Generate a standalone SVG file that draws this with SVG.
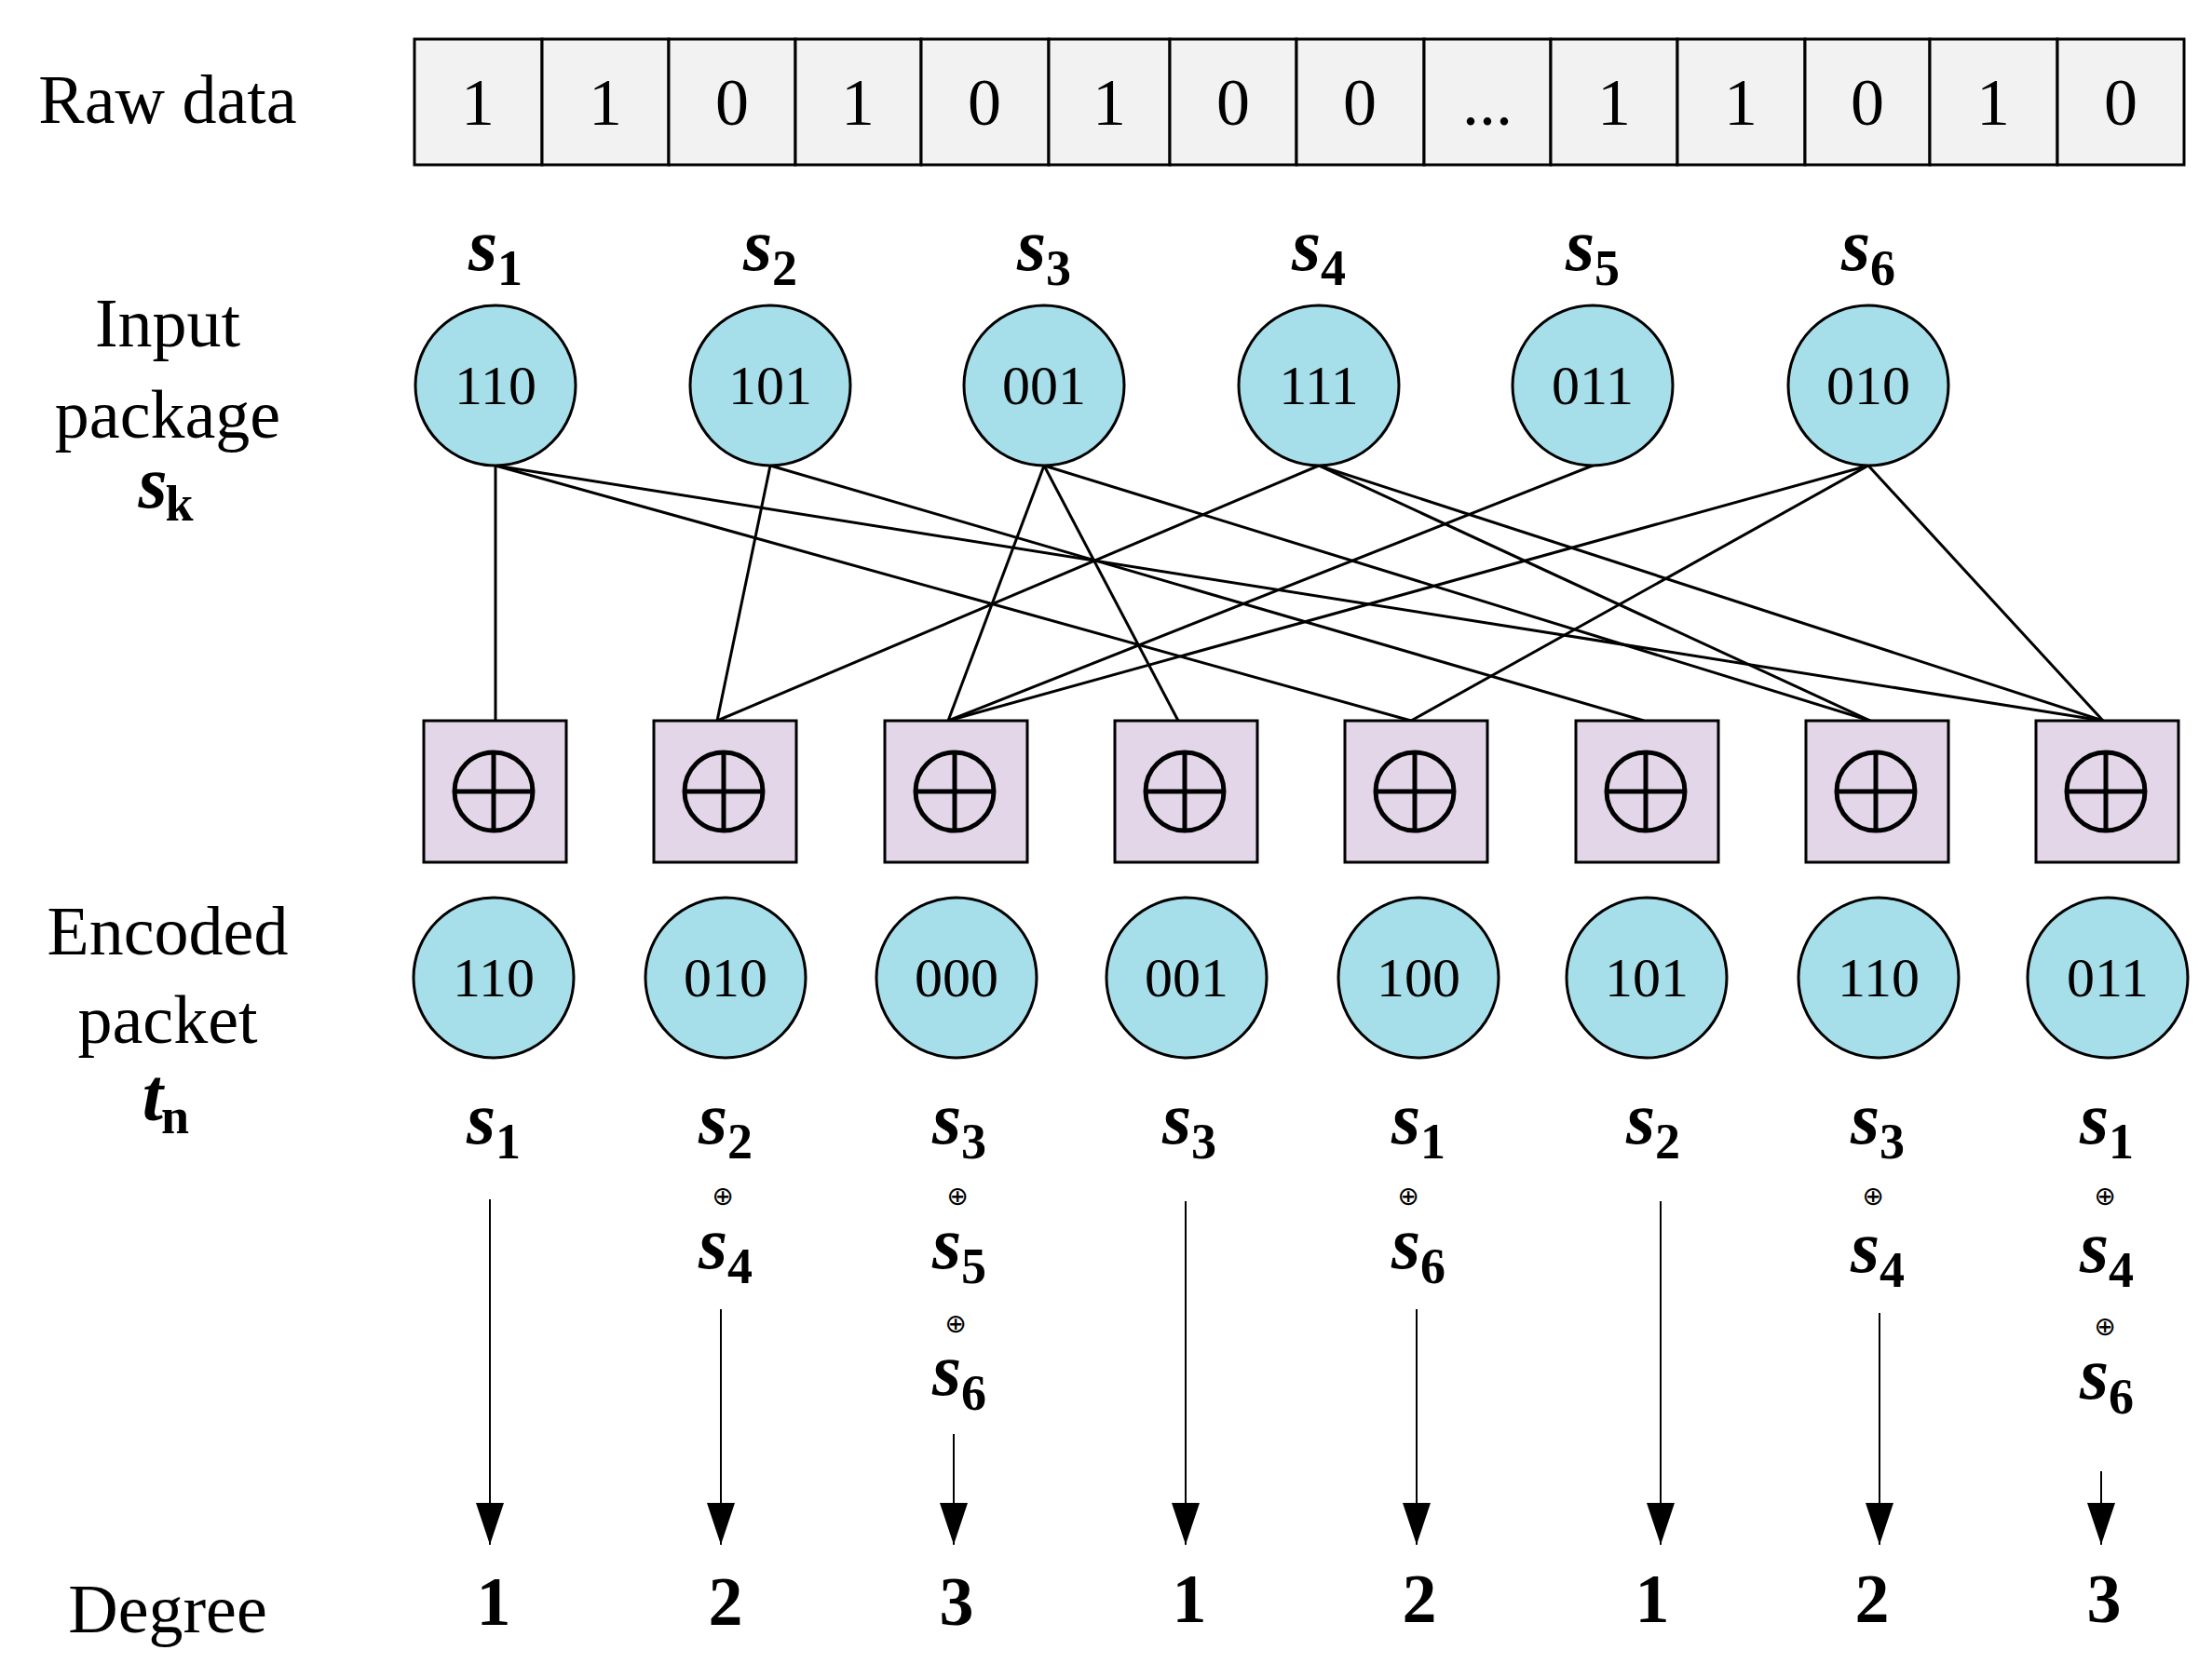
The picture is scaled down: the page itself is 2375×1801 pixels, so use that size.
<svg xmlns="http://www.w3.org/2000/svg" width="2375" height="1801" viewBox="0 0 2375 1801">
<style>
.lbl{font-family:"Liberation Serif",serif;font-size:74px;text-anchor:middle;fill:#000}
.cell{fill:#f2f2f2;stroke:#000;stroke-width:3}
.ct{font-family:"Liberation Serif",serif;font-size:72px;text-anchor:middle}
.node{fill:#a6dfea;stroke:#000;stroke-width:3}
.nt{font-family:"Liberation Serif",serif;font-size:60px;text-anchor:middle}
.box{fill:#e3d6e8;stroke:#000;stroke-width:3}
.xs{fill:none;stroke:#000;stroke-width:5}
.s{font-family:"Liberation Serif",serif;font-size:80px;font-weight:bold;font-style:italic;text-anchor:middle}
.sub{font-style:normal;font-size:54px}
.op{font-family:"DejaVu Sans",sans-serif;font-size:28px;text-anchor:middle}
.deg{font-family:"Liberation Serif",serif;font-size:74px;font-weight:bold;text-anchor:middle}
.e{stroke:#000;stroke-width:3;fill:none}
.a{stroke:#000;stroke-width:2;fill:none}
</style>
<defs>
<marker id="ah2" markerWidth="45" markerHeight="30" refX="45" refY="15" orient="auto" markerUnits="userSpaceOnUse" viewBox="0 0 45 30"><path d="M0,0 L45,15 L0,30 Z" fill="#000"/></marker>
</defs>
<rect width="2375" height="1801" fill="#fff"/>
<g id="labels">
<text class="lbl" x="180" y="132">Raw data</text>
<text class="lbl" x="180" y="372">Input</text>
<text class="lbl" x="180" y="470">package</text>
<text class="s" x="178" y="545">s<tspan class="sub" font-size="40" font-style="italic" dy="14" dx="-2">k</tspan></text>
<text class="lbl" x="180" y="1025">Encoded</text>
<text class="lbl" x="180" y="1120">packet</text>
<text class="s" x="178" y="1203">t<tspan class="sub" font-size="40" font-style="italic" dy="14" dx="-2">n</tspan></text>
<text class="lbl" x="180" y="1753">Degree</text>
</g>
<g id="rawdata">
<rect class="cell" x="445" y="42" width="137" height="135"/><text class="ct" x="513" y="134">1</text>
<rect class="cell" x="582" y="42" width="136" height="135"/><text class="ct" x="650" y="134">1</text>
<rect class="cell" x="718" y="42" width="136" height="135"/><text class="ct" x="786" y="134">0</text>
<rect class="cell" x="854" y="42" width="135" height="135"/><text class="ct" x="921" y="134">1</text>
<rect class="cell" x="989" y="42" width="137" height="135"/><text class="ct" x="1057" y="134">0</text>
<rect class="cell" x="1126" y="42" width="130" height="135"/><text class="ct" x="1191" y="134">1</text>
<rect class="cell" x="1256" y="42" width="136" height="135"/><text class="ct" x="1324" y="134">0</text>
<rect class="cell" x="1392" y="42" width="137" height="135"/><text class="ct" x="1460" y="134">0</text>
<rect class="cell" x="1529" y="42" width="136" height="135"/><text class="ct" x="1597" y="134" font-size="48">...</text>
<rect class="cell" x="1665" y="42" width="136" height="135"/><text class="ct" x="1733" y="134">1</text>
<rect class="cell" x="1801" y="42" width="137" height="135"/><text class="ct" x="1869" y="134">1</text>
<rect class="cell" x="1938" y="42" width="134" height="135"/><text class="ct" x="2005" y="134">0</text>
<rect class="cell" x="2072" y="42" width="137" height="135"/><text class="ct" x="2140" y="134">1</text>
<rect class="cell" x="2209" y="42" width="136" height="135"/><text class="ct" x="2277" y="134">0</text>
</g>
<g id="connectors">
<line class="e" x1="532" y1="500" x2="532" y2="774"/>
<line class="e" x1="532" y1="500" x2="1515" y2="774"/>
<line class="e" x1="532" y1="500" x2="2258" y2="774"/>
<line class="e" x1="827" y1="500" x2="770" y2="774"/>
<line class="e" x1="827" y1="500" x2="1765" y2="774"/>
<line class="e" x1="1121" y1="500" x2="1018" y2="774"/>
<line class="e" x1="1121" y1="500" x2="1265" y2="774"/>
<line class="e" x1="1121" y1="500" x2="2008" y2="774"/>
<line class="e" x1="1416" y1="500" x2="770" y2="774"/>
<line class="e" x1="1416" y1="500" x2="2008" y2="774"/>
<line class="e" x1="1416" y1="500" x2="2258" y2="774"/>
<line class="e" x1="1710" y1="500" x2="1018" y2="774"/>
<line class="e" x1="2006" y1="500" x2="1018" y2="774"/>
<line class="e" x1="2006" y1="500" x2="1515" y2="774"/>
<line class="e" x1="2006" y1="500" x2="2258" y2="774"/>
<line class="a" x1="526" y1="1288" x2="526" y2="1659" marker-end="url(#ah2)"/>
<line class="a" x1="774" y1="1406" x2="774" y2="1659" marker-end="url(#ah2)"/>
<line class="a" x1="1024" y1="1540" x2="1024" y2="1659" marker-end="url(#ah2)"/>
<line class="a" x1="1273" y1="1290" x2="1273" y2="1659" marker-end="url(#ah2)"/>
<line class="a" x1="1521" y1="1406" x2="1521" y2="1659" marker-end="url(#ah2)"/>
<line class="a" x1="1783" y1="1290" x2="1783" y2="1659" marker-end="url(#ah2)"/>
<line class="a" x1="2018" y1="1410" x2="2018" y2="1659" marker-end="url(#ah2)"/>
<line class="a" x1="2256" y1="1580" x2="2256" y2="1659" marker-end="url(#ah2)"/>
</g>
<g id="inputs">
<g id="in1"><text class="s" x="532" y="290">s<tspan class="sub" dy="16">1</tspan></text><ellipse class="node" cx="532" cy="414" rx="86" ry="86"/><text class="nt" x="532" y="434">110</text></g>
<g id="in2"><text class="s" x="827" y="290">s<tspan class="sub" dy="16">2</tspan></text><ellipse class="node" cx="827" cy="414" rx="86" ry="86"/><text class="nt" x="827" y="434">101</text></g>
<g id="in3"><text class="s" x="1121" y="290">s<tspan class="sub" dy="16">3</tspan></text><ellipse class="node" cx="1121" cy="414" rx="86" ry="86"/><text class="nt" x="1121" y="434">001</text></g>
<g id="in4"><text class="s" x="1416" y="290">s<tspan class="sub" dy="16">4</tspan></text><ellipse class="node" cx="1416" cy="414" rx="86" ry="86"/><text class="nt" x="1416" y="434">111</text></g>
<g id="in5"><text class="s" x="1710" y="290">s<tspan class="sub" dy="16">5</tspan></text><ellipse class="node" cx="1710" cy="414" rx="86" ry="86"/><text class="nt" x="1710" y="434">011</text></g>
<g id="in6"><text class="s" x="2006" y="290">s<tspan class="sub" dy="16">6</tspan></text><ellipse class="node" cx="2006" cy="414" rx="86" ry="86"/><text class="nt" x="2006" y="434">010</text></g>
</g>
<g id="xors">
<g id="x1"><rect class="box" x="455" y="774" width="153" height="152"/><circle class="xs" cx="530" cy="850" r="42"/><path class="xs" d="M488,850H572M530,808V892"/></g>
<g id="x2"><rect class="box" x="702" y="774" width="153" height="152"/><circle class="xs" cx="777" cy="850" r="42"/><path class="xs" d="M735,850H819M777,808V892"/></g>
<g id="x3"><rect class="box" x="950" y="774" width="153" height="152"/><circle class="xs" cx="1025" cy="850" r="42"/><path class="xs" d="M983,850H1067M1025,808V892"/></g>
<g id="x4"><rect class="box" x="1197" y="774" width="153" height="152"/><circle class="xs" cx="1272" cy="850" r="42"/><path class="xs" d="M1230,850H1314M1272,808V892"/></g>
<g id="x5"><rect class="box" x="1444" y="774" width="153" height="152"/><circle class="xs" cx="1519" cy="850" r="42"/><path class="xs" d="M1477,850H1561M1519,808V892"/></g>
<g id="x6"><rect class="box" x="1692" y="774" width="153" height="152"/><circle class="xs" cx="1767" cy="850" r="42"/><path class="xs" d="M1725,850H1809M1767,808V892"/></g>
<g id="x7"><rect class="box" x="1939" y="774" width="153" height="152"/><circle class="xs" cx="2014" cy="850" r="42"/><path class="xs" d="M1972,850H2056M2014,808V892"/></g>
<g id="x8"><rect class="box" x="2186" y="774" width="153" height="152"/><circle class="xs" cx="2261" cy="850" r="42"/><path class="xs" d="M2219,850H2303M2261,808V892"/></g>
</g>
<g id="encoded">
<g id="e1"><ellipse class="node" cx="530" cy="1050" rx="86" ry="86"/><text class="nt" x="530" y="1070">110</text></g>
<g id="e2"><ellipse class="node" cx="779" cy="1050" rx="86" ry="86"/><text class="nt" x="779" y="1070">010</text></g>
<g id="e3"><ellipse class="node" cx="1027" cy="1050" rx="86" ry="86"/><text class="nt" x="1027" y="1070">000</text></g>
<g id="e4"><ellipse class="node" cx="1274" cy="1050" rx="86" ry="86"/><text class="nt" x="1274" y="1070">001</text></g>
<g id="e5"><ellipse class="node" cx="1523" cy="1050" rx="86" ry="86"/><text class="nt" x="1523" y="1070">100</text></g>
<g id="e6"><ellipse class="node" cx="1768" cy="1050" rx="86" ry="86"/><text class="nt" x="1768" y="1070">101</text></g>
<g id="e7"><ellipse class="node" cx="2017" cy="1050" rx="86" ry="86"/><text class="nt" x="2017" y="1070">110</text></g>
<g id="e8"><ellipse class="node" cx="2263" cy="1050" rx="86" ry="86"/><text class="nt" x="2263" y="1070">011</text></g>
</g>
<g id="formulas">
<text class="s" x="530" y="1228">s<tspan class="sub" dy="16">1</tspan></text>
<text class="s" x="779" y="1228">s<tspan class="sub" dy="16">2</tspan></text><text class="op" x="776" y="1294">⊕</text><text class="s" x="779" y="1362">s<tspan class="sub" dy="16">4</tspan></text>
<text class="s" x="1030" y="1228">s<tspan class="sub" dy="16">3</tspan></text><text class="op" x="1028" y="1294">⊕</text><text class="s" x="1030" y="1362">s<tspan class="sub" dy="16">5</tspan></text><text class="op" x="1026" y="1431">⊕</text><text class="s" x="1030" y="1498">s<tspan class="sub" dy="16">6</tspan></text>
<text class="s" x="1277" y="1228">s<tspan class="sub" dy="16">3</tspan></text>
<text class="s" x="1523" y="1228">s<tspan class="sub" dy="16">1</tspan></text><text class="op" x="1512" y="1294">⊕</text><text class="s" x="1523" y="1362">s<tspan class="sub" dy="16">6</tspan></text>
<text class="s" x="1775" y="1228">s<tspan class="sub" dy="16">2</tspan></text>
<text class="s" x="2016" y="1228">s<tspan class="sub" dy="16">3</tspan></text><text class="op" x="2011" y="1294">⊕</text><text class="s" x="2016" y="1366">s<tspan class="sub" dy="16">4</tspan></text>
<text class="s" x="2262" y="1228">s<tspan class="sub" dy="16">1</tspan></text><text class="op" x="2260" y="1294">⊕</text><text class="s" x="2262" y="1366">s<tspan class="sub" dy="16">4</tspan></text><text class="op" x="2260" y="1434">⊕</text><text class="s" x="2262" y="1502">s<tspan class="sub" dy="16">6</tspan></text>
</g>
<g id="degrees">
<text class="deg" x="530" y="1745">1</text>
<text class="deg" x="779" y="1745">2</text>
<text class="deg" x="1027" y="1745">3</text>
<text class="deg" x="1277" y="1742">1</text>
<text class="deg" x="1524" y="1742">2</text>
<text class="deg" x="1774" y="1742">1</text>
<text class="deg" x="2010" y="1742">2</text>
<text class="deg" x="2259" y="1742">3</text>
</g>
</svg>
